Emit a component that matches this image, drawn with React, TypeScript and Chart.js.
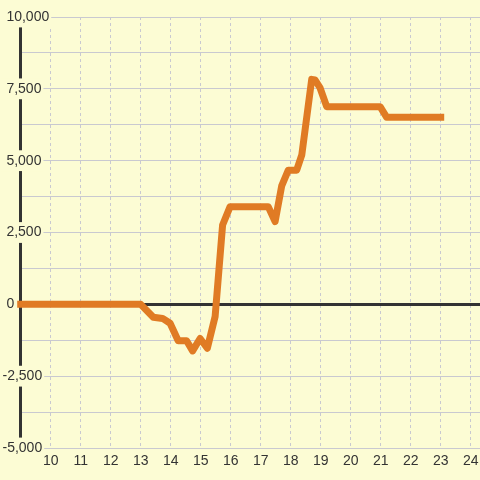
import React, { useEffect, useRef } from "react";
import { Chart, registerables } from "chart.js";

Chart.register(...registerables);

// Hour of day (x) and running value (y)
const times = [9, 13.0, 13.42, 13.73, 13.98, 14.25, 14.53, 14.73, 14.98, 15.22, 15.48, 15.73, 15.98, 17.25, 17.48, 17.7, 17.92, 18.2, 18.37, 18.7, 18.81, 18.98, 19.2, 20.98, 21.2, 23.0];
const values = [0, 0, -450, -490, -660, -1270, -1270, -1620, -1190, -1530, -430, 2760, 3400, 3400, 2880, 4120, 4670, 4670, 5200, 7830, 7810, 7530, 6880, 6880, 6510, 6510];

const xTicks = [10, 11, 12, 13, 14, 15, 16, 17, 18, 19, 20, 21, 22, 23, 24];
const yTicks = [-5000, -3750, -2500, -1250, 0, 1250, 2500, 3750, 5000, 6250, 7500, 8750, 10000];
const yLabels = ["-5,000", "", "-2,500", "", " 0", "", " 2,500", "", " 5,000", "", " 7,500", "", " 10,000"];

const BG = "#fcfcd4";
const GRID = "#c9c9d0";
const DARK = "#333333";
const LINE = "#e07b24";

export default function App() {
  const ref = useRef<HTMLCanvasElement | null>(null);

  useEffect(() => {
    document.body.style.margin = "0";
    document.body.style.background = BG;
    const canvas = ref.current!;
    const bgPlugin = {
      id: "bgfill",
      beforeDraw(chart: any) {
        const c = chart.ctx;
        c.save();
        c.fillStyle = BG;
        c.fillRect(0, 0, chart.width, chart.height);
        c.restore();
      },
    };
    const chart = new Chart(canvas, {
      type: "line",
      data: {
        datasets: [
          {
            data: times.map((t, i) => ({ x: t, y: values[i] })),
            borderColor: LINE,
            borderWidth: 7,
            borderCapStyle: "square",
            borderJoinStyle: "round",
            pointRadius: 0,
            tension: 0,
            fill: false,
            clip: false,
          },
        ],
      },
      options: {
        animation: false,
        responsive: false,
        devicePixelRatio: 1,
        layout: { padding: { left: 2, top: 17, right: 0, bottom: 0 } },
        plugins: { legend: { display: false }, tooltip: { enabled: false } },
        scales: {
          x: {
            type: "linear",
            min: 9,
            max: 24.31,
            afterBuildTicks: (s: any) => {
              s.ticks = xTicks.map((v) => ({ value: v }));
            },
            afterFit: (s: any) => {
              s.height = 32;
              s.paddingLeft = 0;
              s.paddingRight = 0;
            },
            ticks: {
              font: { family: "'Liberation Sans', Arial, sans-serif", size: 14 },
              color: DARK,
              padding: 5,
              maxRotation: 0,
              autoSkip: false,
              callback: (v: any) => String(v),
            },
            grid: { color: GRID, lineWidth: 1, drawTicks: false },
            border: { display: false, dash: [3, 3] },
          },
          y: {
            type: "linear",
            min: -5000,
            max: 10000,
            afterBuildTicks: (s: any) => {
              s.ticks = yTicks.map((v) => ({ value: v }));
            },
            afterFit: (s: any) => {
              s.width = 18.7;
            },
            ticks: {
              font: { family: "'Liberation Sans', Arial, sans-serif", size: 14 },
              color: DARK,
              mirror: true,
              crossAlign: "near",
              padding: -18.2,
              autoSkip: false,
              z: 1,
              callback: (_v: any, i: number) => yLabels[i],
              showLabelBackdrop: (ctx: any) => yLabels[ctx.index] !== "",
              backdropColor: BG,
              backdropPadding: 2,
            },
            grid: {
              color: (ctx: any) => (ctx.tick && ctx.tick.value === 0 ? DARK : GRID),
              lineWidth: (ctx: any) => (ctx.tick && ctx.tick.value === 0 ? 3 : 1),
              drawTicks: false,
            },
            border: { display: true, color: DARK, width: 3 },
          },
        },
      },
      plugins: [bgPlugin],
    } as any);
    return () => chart.destroy();
  }, []);

  return (
    <div style={{ width: 480, height: 480 }}>
      <canvas ref={ref} width={480} height={480} style={{ display: "block" }} />
    </div>
  );
}
